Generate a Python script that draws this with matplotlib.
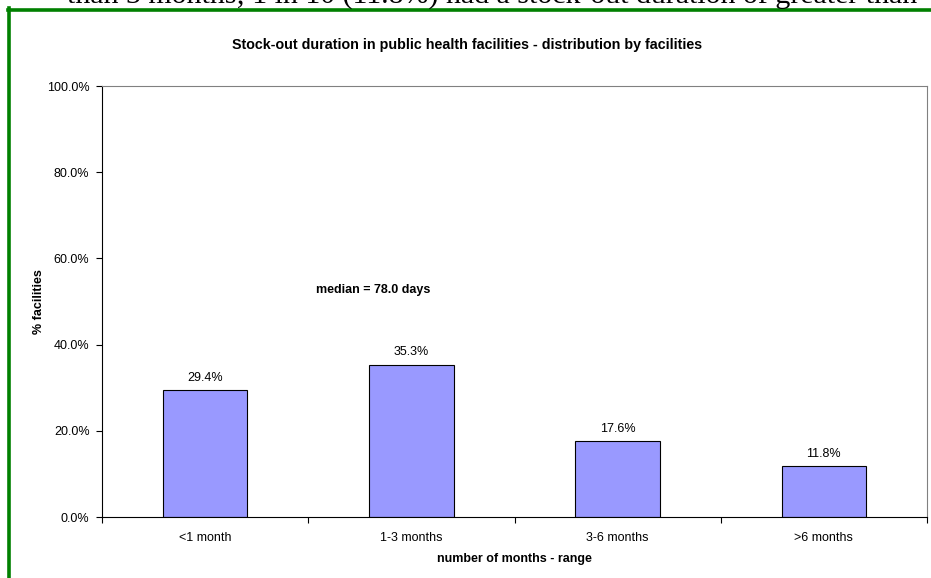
import matplotlib
matplotlib.use("Agg")
import matplotlib.pyplot as plt
from matplotlib.lines import Line2D

# data
categories = ["<1 month", "1-3 months", "3-6 months", ">6 months"]
pct = [29.4, 35.3, 17.6, 11.8]
yticks = [0, 20, 40, 60, 80, 100]

plt.rcParams['font.family'] = ['Liberation Sans', 'DejaVu Sans']

W, H = 931, 578
fig = plt.figure(figsize=(W / 100, H / 100), dpi=100)

# clipped line of the report text above the chart frame
fig.text(67 / W, 1 - 4 / H,
         "than 3 months; 1 in 10 (11.8%) had a stock-out duration of greater than",
         family='Liberation Serif', fontsize=21.5, va='baseline', ha='left')

# green frame (top and left only)
fig.add_artist(Line2D([7.5 / W, 1], [1 - 10 / H, 1 - 10 / H],
                      transform=fig.transFigure, color='#008000', lw=2.6))
fig.add_artist(Line2D([9.3 / W, 9.3 / W], [0, 1 - 8.3 / H],
                      transform=fig.transFigure, color='#008000', lw=2.6))

ax = fig.add_axes([102 / W, (H - 517) / H, (927 - 102) / W, (517 - 86) / H])
x = range(len(categories))
bars = ax.bar(x, pct, width=0.41, color='#9999FF', edgecolor='black', linewidth=0.8)

for xi, v in zip(x, pct):
    ax.text(xi, v + 1.5, f"{v:.1f}%", ha='center', va='bottom', fontsize=9)

ax.text(0.54, 52.7, "median = 78.0 days", ha='left', va='center',
        fontsize=9, fontweight='bold')

ax.set_xlim(-0.5, 3.5)
ax.set_ylim(0, 100)
ax.set_yticks(yticks)
ax.set_yticklabels([f"{t:.1f}%" for t in yticks], fontsize=9)
ax.set_xticks(list(x))
ax.set_xticklabels(categories, fontsize=9)
ax.set_xticks([-0.5, 0.5, 1.5, 2.5, 3.5], minor=True)
ax.tick_params(axis='x', which='major', length=0, pad=11)
ax.tick_params(axis='x', which='minor', length=4, direction='out', width=0.8)
ax.tick_params(axis='y', length=4, direction='out', width=0.8, pad=5)

ax.set_xlabel("number of months - range", fontsize=9, fontweight='bold', labelpad=6)
ax.set_ylabel("% facilities", fontsize=9, fontweight='bold', labelpad=1)

ax.spines['left'].set_color('black')
ax.spines['bottom'].set_color('black')
ax.spines['top'].set_color('#808080')
ax.spines['right'].set_color('#808080')

fig.text(467 / W, 1 - 45 / H,
         "Stock-out duration in public health facilities - distribution by facilities",
         ha='center', va='center', fontsize=10.3, fontweight='bold')

fig.savefig("out.png", dpi=100)
